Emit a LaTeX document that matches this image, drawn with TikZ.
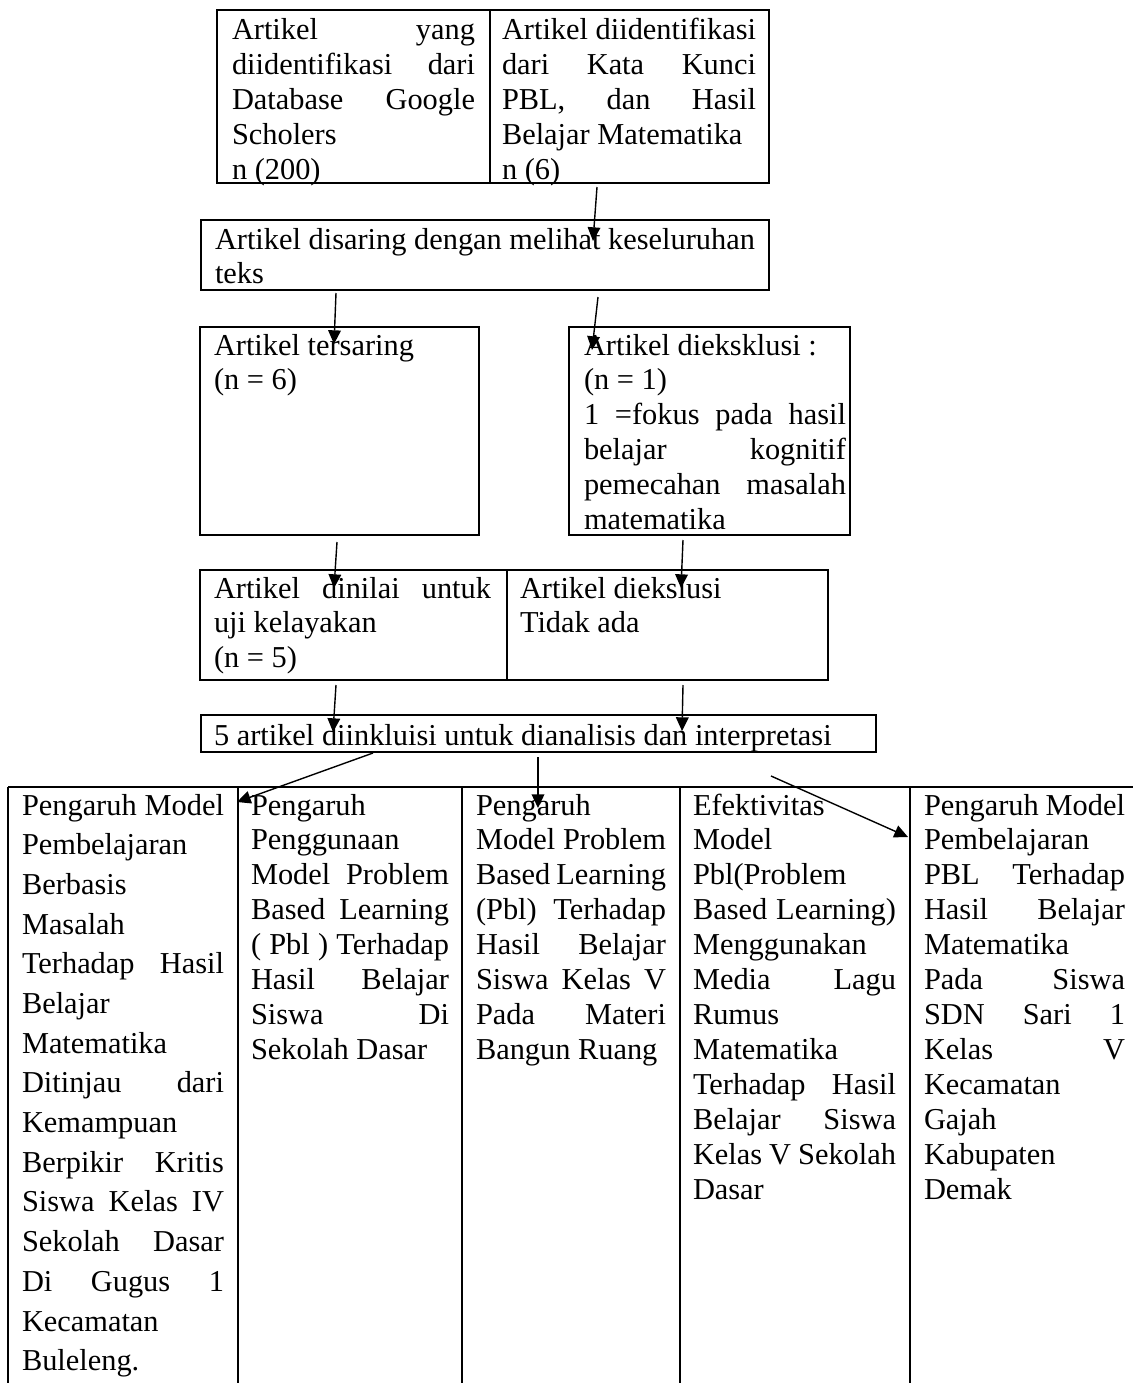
\documentclass[tikz,border=0pt]{standalone}
\usepackage{fontspec}
\setmainfont{Liberation Serif}
\usetikzlibrary{arrows.meta}
\newcommand\jline[1]{\makebox[\linewidth][s]{#1}\par}
\newcommand\lline[1]{#1\par}
\newcommand\tbox[3][13.8]{\begin{minipage}[t]{\dimexpr0.395pt*#2\relax}\fontsize{12}{#1}\selectfont #3\end{minipage}}
\tikzset{
  txt/.style={anchor=base west, inner sep=0pt, outer sep=0pt},
  boxline/.style={line width=0.85pt},
  arr/.style={line width=0.55pt, -{Triangle[length=5.4pt,width=5pt]}}
}
\begin{document}
\begin{tikzpicture}[x=0.395pt, y=-0.395pt]
\useasboundingbox (0,0) rectangle (1133,1383);
\fill[white] (0,0) rectangle (1133,1383);
% boxes
\draw[boxline] (217,10) rectangle (769,183);
\draw[boxline] (490,10) -- (490,183);
\draw[boxline] (201,220) rectangle (769,290);
\draw[boxline] (200,327) rectangle (479,535);
\draw[boxline] (569,327) rectangle (850,535);
\draw[boxline] (200,570) rectangle (828,680);
\draw[boxline] (507,570) -- (507,680);
\draw[boxline] (201,715) rectangle (876,752);
% table
\draw[boxline] (8,787) -- (1133,787);
\foreach \xx in {8,238,462,680,910} \draw[boxline] (\xx,787) -- (\xx,1383);
% texts
\node[txt] (t1l) at (232,39.5) {\tbox{243}{\jline{Artikel yang}\jline{diidentifikasi dari}\jline{Database Google}\lline{Scholers}\lline{n (200)}}};
\node[txt] (t1r) at (502,39.5) {\tbox{254}{\jline{Artikel diidentifikasi}\jline{dari Kata Kunci}\jline{PBL, dan Hasil}\lline{Belajar Matematika}\lline{n (6)}}};
\node[txt] (t2) at (215,249) {\tbox{545}{\lline{Artikel disaring dengan melihat keseluruhan}\lline{teks}}};
\node[txt] (t3l) at (214,355) {\tbox{250}{\lline{Artikel tersaring}\lline{(n = 6)}}};
\node[txt] (t3r) at (584,355) {\tbox{262}{\lline{Artikel dieksklusi :}\lline{(n = 1)}\jline{1 =fokus pada hasil}\jline{belajar kognitif}\jline{pemecahan masalah}\lline{matematika}}};
\node[txt] (t4l) at (214,598) {\tbox{277}{\jline{Artikel dinilai untuk}\lline{uji kelayakan}\lline{(n = 5)}}};
\node[txt] (t4r) at (520,598) {\tbox{290}{\lline{Artikel diekslusi}\lline{Tidak ada}}};
\node[txt] (t5) at (214,745) {\tbox{640}{\lline{5 artikel diinkluisi untuk dianalisis dan interpretasi}}};
% table columns
\node[txt] (c1) at (22,815) {\tbox[15.68]{202}{\jline{Pengaruh Model}\lline{Pembelajaran}\lline{Berbasis}\lline{Masalah}\jline{Terhadap Hasil}\lline{Belajar}\lline{Matematika}\jline{Ditinjau dari}\lline{Kemampuan}\jline{Berpikir Kritis}\jline{Siswa Kelas IV}\jline{Sekolah Dasar}\jline{Di Gugus 1}\lline{Kecamatan}\lline{Buleleng.}}};
\node[txt] (c2) at (251,815) {\tbox{198}{\lline{Pengaruh}\lline{Penggunaan}\jline{Model Problem}\jline{Based Learning}\jline{( Pbl ) Terhadap}\jline{Hasil Belajar}\jline{Siswa Di}\lline{Sekolah Dasar}}};
\node[txt] (c3) at (476,815) {\tbox{190}{\lline{Pengaruh}\jline{Model Problem}\jline{Based Learning}\jline{(Pbl) Terhadap}\jline{Hasil Belajar}\jline{Siswa Kelas V}\jline{Pada Materi}\lline{Bangun Ruang}}};
\node[txt] (c4) at (693,815) {\tbox{203}{\lline{Efektivitas}\lline{Model}\lline{Pbl(Problem}\jline{Based Learning)}\lline{Menggunakan}\jline{Media Lagu}\lline{Rumus}\lline{Matematika}\jline{Terhadap Hasil}\jline{Belajar Siswa}\jline{Kelas V Sekolah}\lline{Dasar}}};
\node[txt] (c5) at (924,815) {\tbox{201}{\jline{Pengaruh Model}\lline{Pembelajaran}\jline{PBL Terhadap}\jline{Hasil Belajar}\lline{Matematika}\jline{Pada Siswa}\jline{SDN Sari 1}\jline{Kelas V}\lline{Kecamatan}\lline{Gajah}\lline{Kabupaten}\lline{Demak}}};
% arrow end points
\coordinate (a1s) at (597,187); \coordinate (a1e) at (593,241);
\coordinate (a2s) at (336,293); \coordinate (a2e) at (334,344);
\coordinate (a3s) at (598,297); \coordinate (a3e) at (592,350);
\coordinate (a4s) at (337,542); \coordinate (a4e) at (334,588);
\coordinate (a5s) at (683,540); \coordinate (a5e) at (681,588);
\coordinate (a6s) at (336,685); \coordinate (a6e) at (333,732);
\coordinate (a7s) at (683,685); \coordinate (a7e) at (682,731);
\coordinate (a8s) at (373,753); \coordinate (a8e) at (237,802);
\coordinate (a9s) at (538,757); \coordinate (a9e) at (538,808);
\coordinate (a10s) at (771,776); \coordinate (a10e) at (908,837);
\foreach \k in {1,...,10} \draw[arr] (a\k s) -- (a\k e);
\end{tikzpicture}
\end{document}
